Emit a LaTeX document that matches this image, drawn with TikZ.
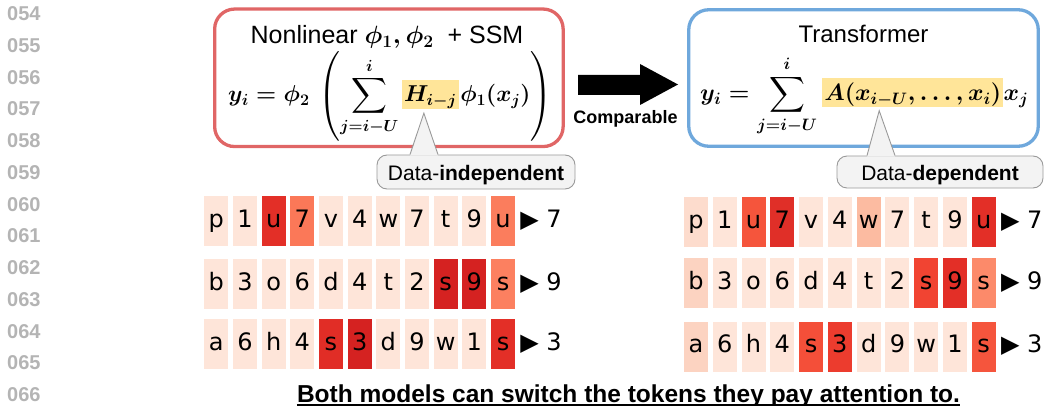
\RequirePackage{fix-cm}
\documentclass[tikz,border=0pt]{standalone}
\usepackage{amsmath}
\usepackage{fontspec}
\setmainfont{Liberation Sans}
\newfontfamily\tokfont{DejaVu Sans}
\usetikzlibrary{calc}

\definecolor{lngray}{HTML}{B4B4B4}
\definecolor{redb}{HTML}{E06666}
\definecolor{blueb}{HTML}{6FA8DC}
\definecolor{hlyellow}{HTML}{FFE599}
\definecolor{cfill}{HTML}{F3F3F3}
\definecolor{cgray}{HTML}{999999}
% heat-map cell colours
\definecolor{lt}{HTML}{FEE5D9}
\definecolor{la}{HTML}{E32F27}
\definecolor{lb}{HTML}{FB7858}
\definecolor{lc}{HTML}{FB7D5D}
\definecolor{ld}{HTML}{D52221}
\definecolor{le}{HTML}{FC8060}
\definecolor{lf}{HTML}{E12D26}
\definecolor{ra}{HTML}{FDDCCD}
\definecolor{rb}{HTML}{F5553C}
\definecolor{rc}{HTML}{E02F28}
\definecolor{rd}{HTML}{FCBBA1}
\definecolor{re}{HTML}{FCD3C1}
\definecolor{rf}{HTML}{F14432}
\definecolor{rg}{HTML}{FC8A6A}
\definecolor{rh}{HTML}{F44F39}
\definecolor{ri}{HTML}{EC3C2E}
\definecolor{rj}{HTML}{F5553D}

% bold math, kept inside its own group
\newcommand\bm[1]{{\boldmath$#1$}}
% invisible strut that sets the size of the big parentheses
\newcommand\parstrut{\vrule height 47pt depth 35pt width 0pt}

\tikzset{
  ln/.style={font=\fontsize{20}{24}\selectfont\bfseries, text=lngray, anchor=base west, inner sep=0pt},
  panel/.style={line width=3.3pt, rounded corners=20pt, inner sep=0pt},
  ttl/.style={font=\fontsize{24}{28}\selectfont, anchor=base, inner sep=0pt},
  eq/.style={font=\fontsize{23}{27}\selectfont, anchor=base west, inner sep=0pt},
  hl/.style={eq, fill=hlyellow, text height=22pt, text depth=7pt, inner xsep=2pt, inner ysep=0pt},
  callout/.style={draw=cgray, fill=cfill, line width=0.9pt, rounded corners=10pt,
    minimum width=198pt, minimum height=34pt, inner sep=0pt,
    font=\fontsize{21}{25}\selectfont, text height=16pt, text depth=0pt},
  pointer/.style={draw=cgray, line width=0.9pt, line join=miter},
  tok/.style={minimum width=24pt, minimum height=50pt, inner sep=0pt,
    font=\tokfont\fontsize{24}{28}\selectfont, text height=17.5pt, text depth=5pt},
  ans/.style={anchor=base west, inner sep=0pt, font=\tokfont\fontsize{24}{28}\selectfont},
}

% one row of tokens: name, x of first centre, y centre, pitch, token/colour list, answer
\newcommand\tokrow[6]{%
  \foreach \tk/\cl [count=\k from 0] in {#5} {
    \node[tok, fill=\cl] (#1-\k) at ({#2+#4*\k}, #3) {\tk};
  }
  \node[ans] (#1-ans) at ([xshift=5pt]#1-10.base east) {▶ #6};
}

\begin{document}
\begin{tikzpicture}[x=1pt, y=-1pt]
\useasboundingbox (0,0) rectangle (1048,406);

% line numbers in the margin
\foreach \n [count=\k from 0] in {054,055,056,057,058,059,060,061,062,063,064,065,066}
  \node[ln] (ln\k) at (7, {20.7+31.75*\k}) {\n};

% SSM panel
\node[panel, draw=redb, minimum width=348.5pt, minimum height=137.5pt] (ssm) at (388.9,77.8) {};
\node[ttl, font=\fontsize{25}{29}\selectfont] (ssmttl) at (387,44) {Nonlinear \bm{\phi_1, \phi_2}\ \ + SSM};
\node[eq] (eqL1) at (228,102) {\bm{\displaystyle y_i=\phi_2\,\left(\parstrut\sum_{j=i-U}^{i}\right.}};
\node[hl] (hlH) at ([xshift=2pt]eqL1.base east) {\bm{H_{i-j}}};
\node[eq] (eqL3) at (hlH.base east) {\bm{\displaystyle\left.\parstrut\phi_1(x_j)\right)}};

% Transformer panel
\node[panel, draw=blueb, minimum width=349.5pt, minimum height=136.5pt] (tf) at (863.5,78) {};
\node[ttl] (tfttl) at (863.5,43) {Transformer};
\node[eq, font=\fontsize{23.6}{28}\selectfont] (eqR1) at (700,100.5) {\bm{\displaystyle y_i=\sum_{j=i-U}^{i}}};
\node[hl, font=\fontsize{23.6}{28}\selectfont] (hlA) at ([xshift=5pt]eqR1.base east) {\bm{A(x_{i-U},\ldots,x_i)}};
\node[eq, font=\fontsize{23.6}{28}\selectfont] (eqR3) at (hlA.base east) {\bm{x_j}};

% block arrow between the panels
\fill (578,75) -- (640,75) -- (640,64) -- (678,84.5) -- (640,105) -- (640,95) -- (578,95) -- cycle;
\node[anchor=base, inner sep=0pt, font=\fontsize{18}{22}\selectfont\bfseries] (cmp) at (625.5,123.5) {Comparable};

% callouts
\coordinate (tipL) at ([xshift=-6.5pt, yshift=-4pt]hlH.south);
\node[callout] (cL) at (476,172) {Data-\textbf{independent}};
\fill[cfill] ([xshift=-66pt, yshift=-1.2pt]cL.north) -- (tipL) -- ([xshift=-38pt, yshift=-1.2pt]cL.north) -- cycle;
\draw[pointer] ([xshift=-66pt]cL.north) -- (tipL) -- ([xshift=-38pt]cL.north);

\coordinate (tipR) at ([xshift=-33.5pt, yshift=-3pt]hlA.south);
\node[callout, minimum width=206pt, minimum height=32pt] (cR) at (940,172) {Data-\textbf{dependent}};
\fill[cfill] ([xshift=-73pt, yshift=-1.2pt]cR.north) -- (tipR) -- ([xshift=-45pt, yshift=-1.2pt]cR.north) -- cycle;
\draw[pointer] ([xshift=-73pt]cR.north) -- (tipR) -- ([xshift=-45pt]cR.north);

% attention maps, SSM side
\tokrow{L1}{216.3}{221}{28.67}{p/lt,1/lt,u/la,7/lb,v/lt,4/lt,w/lt,7/lt,t/lt,9/lt,u/lc}{7}
\tokrow{L2}{216.3}{284}{28.67}{b/lt,3/lt,o/lt,6/lt,d/lt,4/lt,t/lt,2/lt,s/ld,9/ld,s/le}{9}
\tokrow{L3}{216.3}{344}{28.67}{a/lt,6/lt,h/lt,4/lt,s/lf,3/ld,d/lt,9/lt,w/lt,1/lt,s/la}{3}

% attention maps, Transformer side
\tokrow{R1}{696}{222.3}{28.77}{p/ra,1/lt,u/rb,7/rc,v/lt,4/lt,w/rd,7/lt,t/lt,9/lt,u/la}{7}
\tokrow{R2}{696}{283}{28.77}{b/re,3/lt,o/lt,6/lt,d/lt,4/lt,t/lt,2/lt,s/rf,9/la,s/rg}{9}
\tokrow{R3}{696}{346.7}{28.77}{a/re,6/lt,h/lt,4/lt,s/rh,3/ri,d/lt,9/lt,w/lt,1/lt,s/rj}{3}

% closing remark
\node[anchor=base, inner sep=0pt, font=\fontsize{24.5}{28}\selectfont\bfseries] (bt) at (628.5,402.3)
  {Both models can switch the tokens they pay attention to.};
\draw[line width=2.4pt] ([yshift=-3.2pt]bt.base west) -- ([yshift=-3.2pt]bt.base east);
\end{tikzpicture}
\end{document}
